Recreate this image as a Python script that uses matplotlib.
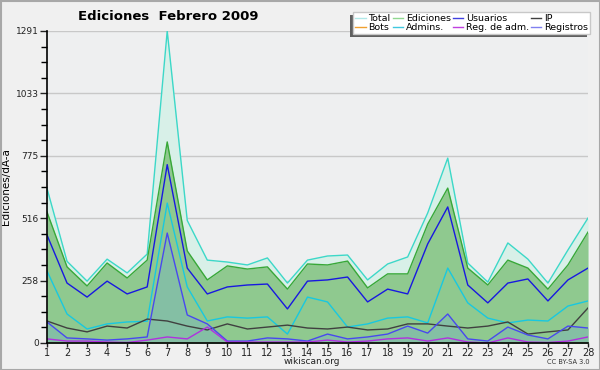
import matplotlib
matplotlib.use("Agg")
import matplotlib.pyplot as plt
from matplotlib.patches import Rectangle
from matplotlib.lines import Line2D
import numpy as np

days = list(range(1, 29))
total = [640, 338, 256, 347, 290, 368, 1291, 507, 343, 335, 323, 352, 248, 343,
         360, 364, 261, 327, 356, 538, 765, 331, 252, 414, 347, 248, 385, 517]
ediciones = [542, 315, 236, 331, 269, 343, 832, 381, 261, 319, 306, 315, 223, 327,
             323, 339, 228, 286, 286, 492, 641, 310, 240, 343, 310, 223, 323, 459]
usuarios = [447, 248, 190, 256, 203, 232, 738, 310, 203, 232, 240, 244, 141, 256,
            261, 273, 170, 223, 203, 410, 563, 240, 166, 248, 265, 174, 261, 310]
admins = [298, 120, 58, 79, 87, 90, 579, 232, 91, 108, 103, 108, 37, 190,
          170, 66, 79, 103, 108, 83, 310, 166, 103, 83, 95, 91, 153, 174]
ip = [91, 62, 46, 70, 62, 99, 91, 70, 54, 79, 58, 66, 74, 62,
      58, 66, 54, 58, 79, 79, 70, 62, 70, 87, 37, 46, 54, 145]
registros = [87, 21, 17, 12, 17, 25, 455, 116, 79, 8, 8, 21, 17, 8,
             37, 17, 25, 37, 70, 41, 120, 17, 8, 66, 33, 17, 70, 62]
reg_adm = [17, 8, 8, 4, 2, 12, 25, 17, 66, 4, 4, 4, 4, 4,
           12, 4, 8, 17, 21, 8, 21, 4, 0, 21, 4, 2, 8, 25]
bots = [0] * 28

y_ticks = [0, 258.2, 516.4, 774.6, 1032.8, 1291]
y_labels = ["0", "258", "516", "775", "1033", "1291"]

fig = plt.figure(figsize=(6, 3.7), dpi=100)
fig.patch.set_facecolor("#f0f0f0")
ax = fig.add_axes([47/600, 1-343/370, 541/600, 312/370])
ax.set_facecolor("#eeeff0")

ax.fill_between(days, total, 0, color="#d8f0e8", zorder=1, lw=0)
ax.fill_between(days, ediciones, 0, color="#8fc98f", zorder=2, lw=0)
ax.fill_between(days, registros, 0, color="#84bfa4", zorder=3, lw=0)

lw = 1.0
ax.plot(days, total, color="#3cd8c8", lw=lw, zorder=5)
ax.plot(days, ediciones, color="#38a838", lw=lw, zorder=5)
ax.plot(days, usuarios, color="#1818e0", lw=lw, zorder=5)
ax.plot(days, admins, color="#18c8e0", lw=lw, zorder=5)
ax.plot(days, ip, color="#404040", lw=lw, zorder=5)
ax.plot(days, registros, color="#4848f0", lw=lw, zorder=5)
ax.plot(days, reg_adm, color="#b030e0", lw=lw, zorder=5)
ax.plot(days, bots, color="#f0a030", lw=lw, zorder=4)

ax.set_xlim(1, 28)
ax.set_ylim(0, 1291)
ax.set_xticks(days)
ax.set_xticklabels([str(d) for d in days], fontsize=7)
ax.set_yticks(y_ticks)
ax.set_yticklabels(y_labels, fontsize=6.5)
ax.set_yticks(np.arange(0, 1291.1, 1291/20), minor=True)
ax.tick_params(axis="y", which="major", length=5, width=1, pad=1, colors="#222222")
ax.tick_params(axis="y", which="minor", length=4, width=1)
ax.tick_params(axis="x", length=3, width=1, pad=0.5, colors="#222222")
for t in y_ticks[1:]:
    ax.axhline(t, color="#c8c8c8", lw=1, zorder=0.5)
for s in ["top", "right"]:
    ax.spines[s].set_visible(False)
ax.spines["left"].set_linewidth(1.2)
ax.spines["bottom"].set_linewidth(1.2)
ax.spines["left"].set_zorder(10)
ax.spines["bottom"].set_zorder(10)

ax.set_ylabel("Ediciones/dÃ-a", fontsize=7.5)
ax.yaxis.set_label_coords(-36/541, 0.5)

handles = [
    Line2D([], [], color="#b0e8e8", lw=1), Line2D([], [], color="#f0a030", lw=1),
    Line2D([], [], color="#90d890", lw=1), Line2D([], [], color="#40c8e0", lw=1),
    Line2D([], [], color="#4040e0", lw=1), Line2D([], [], color="#c040e0", lw=1),
    Line2D([], [], color="#404040", lw=1), Line2D([], [], color="#8080f0", lw=1),
]
labels = ["Total", "Bots", "Ediciones", "Admins.", "Usuarios", "Reg. de adm.", "IP", "Registros"]
leg = fig.legend(handles, labels, ncol=4, loc="upper right",
                 bbox_to_anchor=(590/600, 1-12/370), fontsize=6.8,
                 frameon=True, fancybox=False, edgecolor="#c8c8c8",
                 facecolor="white", framealpha=1, handlelength=1.1,
                 handletextpad=0.3, columnspacing=0.2, labelspacing=0.0,
                 borderpad=0.2, borderaxespad=0)
leg.set_zorder(20)

fig.canvas.draw()
bb = leg.get_window_extent().transformed(fig.transFigure.inverted())
shadow = Rectangle((bb.x0 - 3/600, bb.y0 - 3/370), bb.width, bb.height,
                   transform=fig.transFigure, facecolor="#606060",
                   edgecolor="none", zorder=19)
fig.add_artist(shadow)

fig.text(168/600, 1-17/370, "Ediciones  Febrero 2009", fontsize=9.5,
         fontweight="bold", ha="center", va="center")
fig.text(312/600, 1-362/370, "wikiscan.org", fontsize=6.5, ha="center", va="center",
         color="#222222")
fig.text(590/600, 1-362/370, "CC BY-SA 3.0", fontsize=4.8, ha="right", va="center",
         color="#333333")

fig.add_artist(Rectangle((0.5/600, 0.5/370), 1-1/600, 1-1/370, transform=fig.transFigure,
                         fill=False, edgecolor="#a8a8a8", lw=1.5))

fig.savefig("out.png", dpi=100, facecolor=fig.get_facecolor())
